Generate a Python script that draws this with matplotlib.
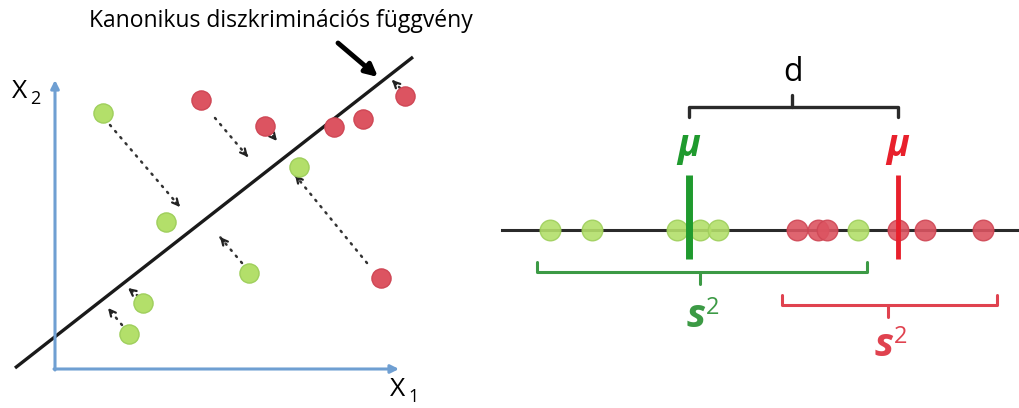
"""
canonical discriminant function: projection of two groups onto the discriminant axis
outputs: out.png
"""

import matplotlib.pyplot as plt

# -- DATA (figure pixel coordinates) --
# left panel: group members in the X1-X2 plane
green_x = [103, 166, 249, 143, 129, 299]
green_y = [113, 222, 273, 303, 334, 167]
red_x = [201, 265, 334, 363, 405, 381]
red_y = [100, 126, 127, 119, 96, 278]

# projection arrows (start x, start y, end x, end y)
proj_x0 = [110, 215, 268, 367, 242, 138, 122, 400]
proj_y0 = [125, 118, 130, 263, 263, 296, 325, 88]
proj_x1 = [180, 248, 277, 295, 220, 128, 108, 392]
proj_y1 = [207, 157, 141, 175, 237, 288, 308, 80]

# discriminant line end points
line_x = [15, 413]
line_y = [368, 57]

# right panel: scores on the discriminant axis
axis_y = 230
green_score = [550, 592, 677, 700, 718, 858]
red_score = [797, 818, 827, 898, 925, 983]
green_mean = 689
red_mean = 898
green_span = [537, 867]
red_span = [782, 997]

GREEN_FILL = "#b3df6a"
GREEN_EDGE = "#9fcf5c"
RED_FILL = "#dc5461"
RED_EDGE = "#cf4755"
GREEN_DARK = "#1f9a2e"
GREEN_BRACKET = "#3c9a45"
RED_DARK = "#e8202c"
RED_BRACKET = "#e0424f"
AXIS_BLUE = "#6f9fd2"

# -- PLOT --
fig = plt.figure(figsize=(10.19, 4.08), dpi=100)
ax = fig.add_axes([0, 0, 1, 1])
ax.set_xlim(0, 1019)
ax.set_ylim(408, 0)
ax.axis("off")

FONT = ["Open Sans", "DejaVu Sans"]

# X1 / X2 axes
ax.annotate("", xy=(55, 80), xytext=(55, 370),
            arrowprops=dict(arrowstyle="-|>", color=AXIS_BLUE, lw=2.2,
                            mutation_scale=12, shrinkA=0, shrinkB=0))
ax.annotate("", xy=(399, 369), xytext=(54, 369),
            arrowprops=dict(arrowstyle="-|>", color=AXIS_BLUE, lw=2.2,
                            mutation_scale=12, shrinkA=0, shrinkB=0))
ax.text(12, 98, "X", fontsize=19, family=FONT, ha="left", va="baseline")
ax.text(30, 104, "2", fontsize=13, family=FONT, ha="left", va="baseline")
ax.text(390, 396, "X", fontsize=19, family=FONT, ha="left", va="baseline")
ax.text(408, 402, "1", fontsize=13, family=FONT, ha="left", va="baseline")

# discriminant line
ax.plot(line_x, line_y, color="#1a1a1a", lw=2.4, solid_capstyle="butt", zorder=2)

# dotted projection arrows
for x0, y0, x1, y1 in zip(proj_x0, proj_y0, proj_x1, proj_y1):
    ax.plot([x0, x1], [y0, y1], color="#333333", lw=1.8,
            linestyle=(0, (0.6, 2.6)), dash_capstyle="round", zorder=3)
    dx, dy = x1 - x0, y1 - y0
    n = (dx ** 2 + dy ** 2) ** 0.5
    ax.annotate("", xy=(x1, y1), xytext=(x1 - dx / n * 6, y1 - dy / n * 6),
                arrowprops=dict(arrowstyle="->", color="#222222", lw=1.6,
                                mutation_scale=11, shrinkA=0, shrinkB=0),
                zorder=3)

ax.scatter(green_x, green_y, s=190, color=GREEN_FILL, edgecolors=GREEN_EDGE,
           linewidths=1, zorder=4)
ax.scatter(red_x, red_y, s=190, color=RED_FILL, edgecolors=RED_EDGE,
           linewidths=1, zorder=4)

# title + pointer arrow
ax.text(281, 21, "Kanonikus diszkriminációs függvény", fontsize=16.5,
        family=FONT, ha="center", va="center")
ax.annotate("", xy=(378, 77), xytext=(338, 43),
            arrowprops=dict(arrowstyle="-|>", color="black", lw=3.5,
                            mutation_scale=18, shrinkA=0, shrinkB=0))

# right panel: discriminant axis with scores
ax.plot([502, 1019], [axis_y, axis_y], color="#2a2a2a", lw=2.2, zorder=2)
ax.scatter(green_score, [axis_y] * len(green_score), s=220, color=GREEN_FILL,
           edgecolors=GREEN_EDGE, linewidths=1, alpha=0.9, zorder=3)
ax.scatter(red_score, [axis_y] * len(red_score), s=220, color=RED_FILL,
           edgecolors=RED_EDGE, linewidths=1, alpha=0.9, zorder=3)

# group means
ax.plot([green_mean, green_mean], [175, 259], color=GREEN_DARK, lw=5,
        solid_capstyle="butt", zorder=5)
ax.plot([red_mean, red_mean], [175, 259], color=RED_DARK, lw=3.5,
        solid_capstyle="butt", zorder=5)
ax.text(green_mean, 156, "µ", fontsize=27, family=FONT, weight="bold",
        style="italic", color=GREEN_DARK, ha="center", va="baseline")
ax.text(red_mean, 156, "µ", fontsize=27, family=FONT, weight="bold",
        style="italic", color=RED_DARK, ha="center", va="baseline")


def bracket(x0, x1, y, tip, color, lw, up):
    """Square bracket between x0 and x1 with a tick at tip."""
    s = -1 if up else 1
    ax.plot([x0, x0, x1, x1], [y + s * 10, y, y, y + s * 10], color=color,
            lw=lw, solid_joinstyle="round", solid_capstyle="round")
    ax.plot([tip, tip], [y, y - s * 12], color=color, lw=lw,
            solid_capstyle="round")


# distance between the means
bracket(green_mean, red_mean, 107, (green_mean + red_mean) / 2 - 1,
        "#2a2a2a", 2.4, up=False)
ax.text((green_mean + red_mean) / 2, 81, "d", fontsize=23, family=FONT,
        ha="center", va="baseline")

# within-group spreads
bracket(green_span[0], green_span[1], 272, 700, GREEN_BRACKET, 2.2, up=True)
bracket(red_span[0], red_span[1], 305, 888, RED_BRACKET, 2.2, up=True)

for cx, cy, color in [(700, 327, GREEN_BRACKET), (888, 356, RED_BRACKET)]:
    ax.text(cx + 6, cy, "s", fontsize=29, family=FONT, weight="bold",
            style="italic", color=color, ha="right", va="baseline")
    ax.text(cx + 6, cy - 13, "2", fontsize=17, family=FONT, color=color,
            ha="left", va="baseline")

plt.savefig("out.png", dpi=100)
plt.close()
